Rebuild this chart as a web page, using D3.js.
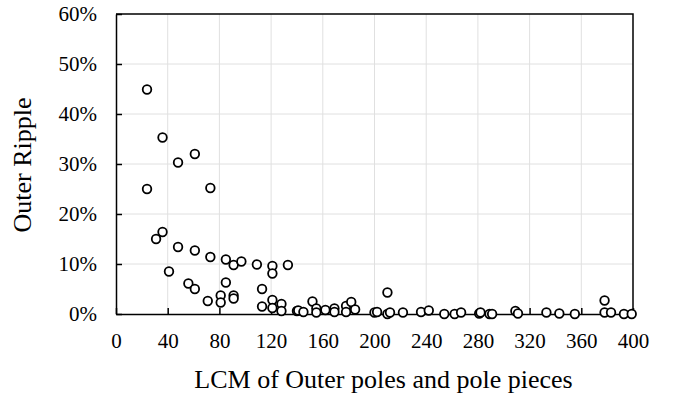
<!DOCTYPE html>
<html>
<head>
<meta charset="utf-8">
<script src="https://cdnjs.cloudflare.com/ajax/libs/d3/7.8.5/d3.min.js"></script>
<style>
  body { margin: 0; background: #fff; }
  svg text { font-family: "Liberation Serif", "Times New Roman", Times, serif; fill: #000; }
</style>
</head>
<body>
<script>
// LCM values (x) and outer ripple in % (y)
var lcm = [24, 36, 61, 48, 24, 73, 31, 36, 48, 61, 73, 85, 91, 97, 109, 121, 121, 133,
    41, 56, 61, 85, 113, 71, 81, 81, 91, 91, 113, 121, 121, 128, 128, 140,
    141, 145, 152, 155, 155, 162, 169, 169, 178, 178, 182, 185,
    200, 202, 210, 210, 212, 222, 236, 242, 254, 262, 267, 281,
    282, 289, 291, 309, 311, 333, 343, 355, 378, 378, 383, 393, 399];
var ripple = [44.9, 35.3, 32.0, 30.3, 25.0, 25.2, 15.0, 16.4, 13.4, 12.7, 11.4, 10.9, 9.8, 10.5, 9.9, 9.6, 8.1, 9.8,
    8.5, 6.1, 5.0, 6.3, 5.0, 2.6, 3.7, 2.3, 3.7, 3.1, 1.5, 2.8, 1.2, 2.0, 0.6, 0.6,
    0.7, 0.4, 2.5, 1.1, 0.3, 0.8, 1.1, 0.4, 1.6, 0.4, 2.4, 0.9,
    0.3, 0.4, 4.3, 0.0, 0.3, 0.3, 0.4, 0.7, 0.0, 0.0, 0.3, 0.1,
    0.3, 0.0, 0.0, 0.6, 0.1, 0.3, 0.1, 0.0, 2.7, 0.3, 0.3, 0.0, 0.0];
var xTicks = [0, 40, 80, 120, 160, 200, 240, 280, 320, 360, 400];
var yTicks = [0, 10, 20, 30, 40, 50, 60];

var serif = '"Liberation Serif", "Times New Roman", Times, serif';

var margin = {top: 14, right: 40, bottom: 82, left: 116},
    width = 673 - margin.left - margin.right,
    height = 396 - margin.top - margin.bottom;

var x = d3.scaleLinear().domain([0, 400]).range([0, width]);
var y = d3.scaleLinear().domain([0, 60]).range([height, 0]);

var svg = d3.select("body").append("svg")
    .attr("width", 673)
    .attr("height", 396)
  .append("g")
    .attr("transform", "translate(" + margin.left + "," + margin.top + ")");

// gridlines
svg.append("g")
    .selectAll("line")
    .data(xTicks.slice(1, -1))
  .enter().append("line")
    .attr("x1", function(d) { return x(d); })
    .attr("x2", function(d) { return x(d); })
    .attr("y1", 0)
    .attr("y2", height)
    .attr("stroke", "#e0e0e0")
    .attr("stroke-width", 1);

svg.append("g")
    .selectAll("line")
    .data(yTicks.slice(1, -1))
  .enter().append("line")
    .attr("x1", 0)
    .attr("x2", width)
    .attr("y1", function(d) { return y(d); })
    .attr("y2", function(d) { return y(d); })
    .attr("stroke", "#e0e0e0")
    .attr("stroke-width", 1);

// axes with inside ticks
var xAxis = d3.axisBottom(x).tickValues(xTicks).tickSize(-6).tickPadding(19).tickSizeOuter(0);
var yAxis = d3.axisLeft(y).tickValues(yTicks).tickSize(-6).tickPadding(19).tickSizeOuter(0)
    .tickFormat(function(d) { return d + "%"; });

var gx = svg.append("g")
    .attr("transform", "translate(0," + height + ")")
    .call(xAxis);
var gy = svg.append("g").call(yAxis);

[gx, gy].forEach(function(g) {
    g.attr("font-family", serif).attr("font-size", 21);
    g.selectAll("path").attr("stroke", "#000").attr("stroke-width", 1.5);
    g.selectAll("line").attr("stroke", "#000").attr("stroke-width", 1.5);
    g.selectAll("text").attr("fill", "#000");
});

// top and right border
svg.append("path")
    .attr("d", "M0,0H" + width + "V" + height)
    .attr("fill", "none")
    .attr("stroke", "#000")
    .attr("stroke-width", 1.5);

// points
svg.append("g")
    .selectAll("circle")
    .data(lcm)
  .enter().append("circle")
    .attr("cx", function(d) { return x(d); })
    .attr("cy", function(d, i) { return y(ripple[i]); })
    .attr("r", 4.3)
    .attr("fill", "#fff")
    .attr("stroke", "#000")
    .attr("stroke-width", 1.8);

// titles
svg.append("text")
    .attr("x", 383.5 - margin.left)
    .attr("y", 388 - margin.top)
    .attr("font-family", serif)
    .attr("font-size", 26)
    .style("text-anchor", "middle")
    .text("LCM of Outer poles and pole pieces");

svg.append("text")
    .attr("transform", "rotate(-90)")
    .attr("x", -(165 - margin.top))
    .attr("y", 31 - margin.left)
    .attr("font-family", serif)
    .attr("font-size", 26)
    .style("text-anchor", "middle")
    .text("Outer Ripple");
</script>
</body>
</html>
